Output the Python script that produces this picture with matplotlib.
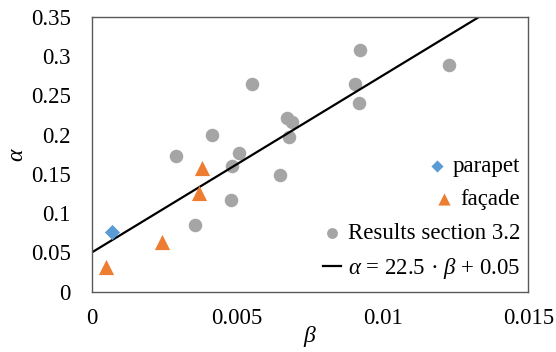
import matplotlib
matplotlib.use('Agg')
import matplotlib.pyplot as plt
import numpy as np

# 字体设置（Times 风格）
plt.rcParams['font.family'] = ['Liberation Serif', 'DejaVu Serif']
plt.rcParams['mathtext.fontset'] = 'custom'
plt.rcParams['mathtext.rm'] = 'Liberation Serif'
plt.rcParams['mathtext.it'] = 'Liberation Serif:italic'

# 数据
results_beta = [0.00922, 0.01228, 0.00552, 0.00906, 0.00917, 0.00672, 0.00688, 0.00678,
                0.00413, 0.00290, 0.00505, 0.00483, 0.00647, 0.00477, 0.00356]
results_alpha = [0.307, 0.288, 0.264, 0.264, 0.240, 0.221, 0.216, 0.197,
                 0.200, 0.173, 0.176, 0.160, 0.149, 0.117, 0.085]
facade_beta = [0.0038, 0.0037, 0.00243, 0.00049]
facade_alpha = [0.157, 0.125, 0.063, 0.031]
parapet_beta = [0.00069]
parapet_alpha = [0.076]
fit_slope = 22.5
fit_intercept = 0.05

x_ticks = [0, 0.005, 0.01, 0.015]
x_labels = ['0', '0.005', '0.01', '0.015']
y_ticks = [0, 0.05, 0.1, 0.15, 0.2, 0.25, 0.3, 0.35]
y_labels = ['0', '0.05', '0.1', '0.15', '0.2', '0.25', '0.3', '0.35']

fig = plt.figure(figsize=(5.56, 3.52), dpi=100)
ax = fig.add_axes([0.165, 0.171, 0.785, 0.782])

ax.scatter(parapet_beta, parapet_alpha, marker='D', s=60, color='#5B9BD5',
           label='parapet', zorder=3, linewidths=0)
ax.scatter(facade_beta, facade_alpha, marker='^', s=120, color='#ED7D31',
           label='façade', zorder=3, linewidths=0)
ax.scatter(results_beta, results_alpha, marker='o', s=95, color='#A5A5A5',
           label='Results section 3.2', zorder=2, linewidths=0)

beta_line = np.array([0, (0.35 - fit_intercept) / fit_slope])
ax.plot(beta_line, fit_slope * beta_line + fit_intercept, color='black', linewidth=1.6,
        label=r'$\alpha$ = 22.5 · $\beta$ + 0.05', zorder=2)

ax.set_xlim(0, 0.015)
ax.set_ylim(0, 0.35)
ax.set_xticks(x_ticks)
ax.set_xticklabels(x_labels)
ax.set_yticks(y_ticks)
ax.set_yticklabels(y_labels)
ax.tick_params(length=0, labelsize=16.5, colors='black')
ax.tick_params(axis='y', pad=15)
ax.tick_params(axis='x', pad=12)
for sp in ax.spines.values():
    sp.set_color('#595959')
    sp.set_linewidth(1.0)

ax.set_xlabel(r'$\beta$', fontsize=17, labelpad=-4)
ax.set_ylabel(r'$\alpha$', fontsize=17, labelpad=2)

leg = ax.legend(loc='lower right', bbox_to_anchor=(1.005, 0.0), frameon=False,
                fontsize=16.5, handlelength=0.8, handletextpad=0.3,
                labelspacing=0.55, markerscale=0.8, borderaxespad=0.05)
# 图例条目右对齐
for col in leg._legend_handle_box.get_children():
    col.align = 'right'

fig.savefig('out.png', dpi=100)
